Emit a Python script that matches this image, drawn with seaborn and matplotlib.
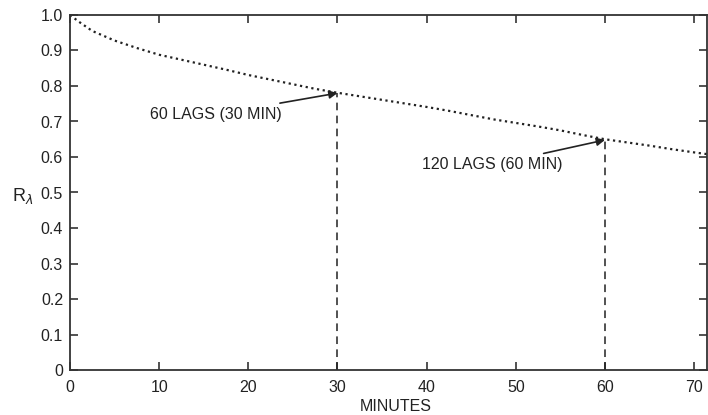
import matplotlib
matplotlib.use("Agg")
import matplotlib.pyplot as plt
import seaborn as sns
import pandas as pd

minutes = [0, 1, 2.5, 5, 7.5, 10, 12.5, 15, 17.5, 20, 22.5, 25, 27.5, 30,
           32.5, 35, 37.5, 40, 42.5, 45, 47.5, 50, 52.5, 55, 57.5, 60,
           62.5, 65, 67.5, 70, 71.5]
r_lambda = [1.0, 0.981, 0.955, 0.928, 0.907, 0.888, 0.874, 0.860, 0.846, 0.831,
            0.818, 0.805, 0.792, 0.781, 0.771, 0.761, 0.751, 0.741, 0.730, 0.718,
            0.706, 0.696, 0.686, 0.675, 0.662, 0.650, 0.641, 0.632, 0.622, 0.613, 0.608]

xticks = [0, 10, 20, 30, 40, 50, 60, 70]
yticks = [0, 0.1, 0.2, 0.3, 0.4, 0.5, 0.6, 0.7, 0.8, 0.9, 1.0]
ytick_labels = ["0", "0.1", "0.2", "0.3", "0.4", "0.5", "0.6", "0.7", "0.8", "0.9", "1.0"]

markers_x = [30, 60]
markers_y = [0.780, 0.648]
annot_text = ["60 LAGS (30 MIN)", "120 LAGS (60 MIN)"]

sns.set_style("ticks")
plt.rcParams['font.family'] = ['Liberation Sans', 'DejaVu Sans']

fig = plt.figure(figsize=(7.08, 4.15), dpi=100)
ax = fig.add_axes([70/708, 45/415, 637/708, 355/415])

df = pd.DataFrame({"min": minutes, "r": r_lambda})
sns.lineplot(data=df, x="min", y="r", ax=ax, color="#222222",
             linestyle=(0, (1, 1.6)), linewidth=1.6)

for mx, my in zip(markers_x, markers_y):
    ax.plot([mx, mx], [0, my], color="#222222", linestyle=(0, (5, 3.5)), linewidth=1.1)

fs = 11.5
ax.annotate(annot_text[0], xy=(markers_x[0], markers_y[0]), xytext=(23.7, 0.72),
            ha="right", va="center", fontsize=fs, color="#222222",
            arrowprops=dict(arrowstyle="-|>", color="#222222", lw=1.2,
                            mutation_scale=12, shrinkA=2, shrinkB=0))
ax.annotate(annot_text[1], xy=(markers_x[1], markers_y[1]), xytext=(55.2, 0.578),
            ha="right", va="center", fontsize=fs, color="#222222",
            arrowprops=dict(arrowstyle="-|>", color="#222222", lw=1.2,
                            mutation_scale=12, shrinkA=2, shrinkB=0))

ax.set_xlim(0, 71.45)
ax.set_ylim(0, 1.0)
ax.set_xticks(xticks)
ax.set_yticks(yticks)
ax.set_yticklabels(ytick_labels)
ax.tick_params(direction="in", length=6, width=1.1, colors="#222222",
               labelsize=fs, top=True, right=True, pad=5)
ax.tick_params(axis="x", pad=7)
for s in ax.spines.values():
    s.set_visible(True)
    s.set_color("#333333")
    s.set_linewidth(1.3)

ax.set_xlabel("MINUTES", fontsize=fs, color="#222222", va="center")
ax.xaxis.set_label_coords(0.511, -0.103)
ax.set_ylabel(r"R$_\lambda$", fontsize=13, color="#222222", rotation=0,
              va="center")
ax.yaxis.set_label_coords(-0.075, 0.49)

fig.savefig("out.png", dpi=100)
